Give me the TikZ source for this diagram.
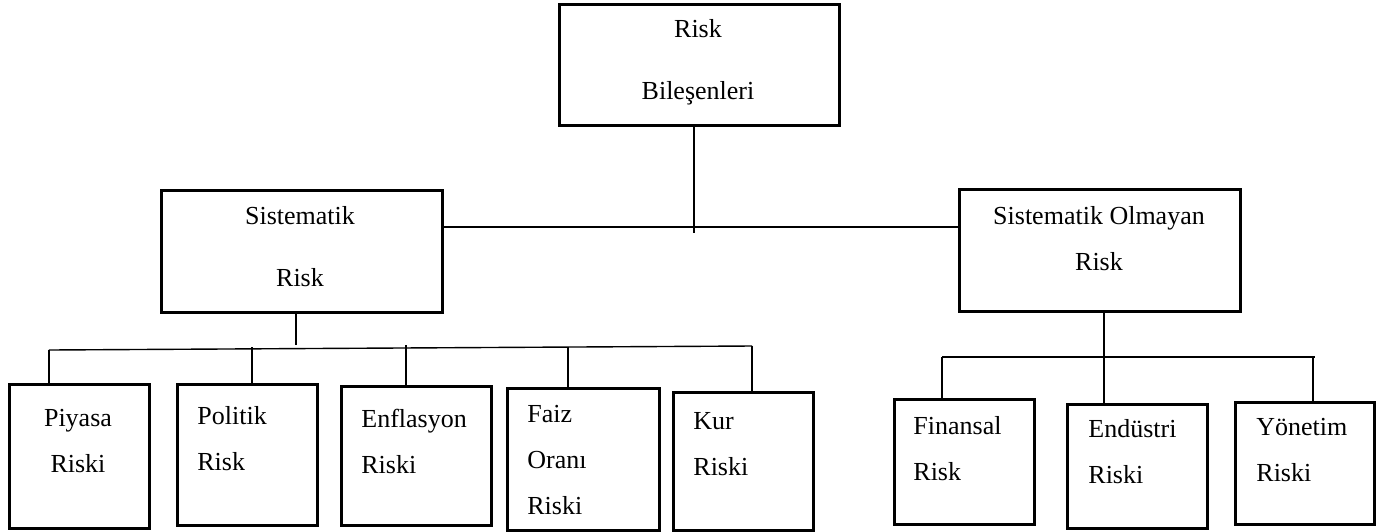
\documentclass[tikz,border=0pt]{standalone}
\usepackage{fontspec}
\setmainfont{Liberation Serif}

\begin{document}
\begin{tikzpicture}[x=0.5pt, y=-0.5pt,
		box/.style={draw, line width=1.4pt, rectangle, inner sep=0pt, anchor=north west},
		txt/.style={inner sep=0pt, align=left, anchor=north west, font=\fontsize{13}{23}\selectfont},
		ctxt/.style={txt, align=center, anchor=north},
		conn/.style={line width=0.7pt},
		]
		\useasboundingbox (0,0) rectangle (1392,531);

		\node[box, minimum width=140pt, minimum height=60.5pt] (risk) at (558,3) {};
		\node[box, minimum width=140.5pt, minimum height=61pt] (sis) at (160,189) {};
		\node[box, minimum width=140.5pt, minimum height=61pt] (sisol) at (958,188) {};

		\node[box, minimum width=70pt, minimum height=72pt] (piy) at (8,383) {};
		\node[box, minimum width=70pt, minimum height=70.5pt] (pol) at (176,383) {};
		\node[box, minimum width=75pt, minimum height=69.5pt] (enf) at (340,385) {};
		\node[box, minimum width=76pt, minimum height=71pt] (faiz) at (506,387) {};
		\node[box, minimum width=70pt, minimum height=69pt] (kur) at (672,391) {};

		\node[box, minimum width=70pt, minimum height=62.5pt] (fin) at (893,398) {};
		\node[box, minimum width=70pt, minimum height=62pt] (end) at (1066,403) {};
		\node[box, minimum width=69.5pt, minimum height=61pt] (yon) at (1234,401) {};

		\node[ctxt] (risk-t) at (698,19.4) {Risk\\[8pt]Bileşenleri};
		\node[ctxt] (sis-t) at (300,206.4) {Sistematik\\[8pt]Risk};
		\node[ctxt] (sisol-t) at (1099,206.4) {Sistematik Olmayan\\Risk};

		\node[ctxt] (piy-t) at (78,408.4) {Piyasa\\Riski};
		\node[txt] (pol-t) at (197,406.4) {Politik\\Risk};
		\node[txt] (enf-t) at (361,408.4) {Enflasyon\\Riski};
		\node[txt] (faiz-t) at (527,404.4) {Faiz\\Oranı\\Riski};
		\node[txt] (kur-t) at (693,412.4) {Kur\\Riski};

		\node[txt] (fin-t) at (913,416.4) {Finansal\\Risk};
		\node[txt] (end-t) at (1088,419.4) {Endüstri\\Riski};
		\node[txt] (yon-t) at (1256,417.4) {Yönetim\\Riski};

		\coordinate (rj) at (694,233);
		\coordinate (hm) at (694,227);
		\draw[conn] (risk.south -| rj) -- (rj);
		\draw[conn] (sis.east |- hm) -- (sisol.west |- hm);

		\coordinate (sj) at (296,345);
		\coordinate (lb1) at (49,350);
		\coordinate (lb2) at (252,347);
		\coordinate (lb3) at (406,345);
		\coordinate (lb4) at (568,347);
		\coordinate (lb5) at (752,346);
		\draw[conn] (sis.south -| sj) -- (sj);
		\draw[conn] (lb1) -- (lb5);
		\draw[conn] (lb1) -- (lb1 |- piy.north);
		\draw[conn] (lb2) -- (lb2 |- pol.north);
		\draw[conn] (lb3) -- (lb3 |- enf.north);
		\draw[conn] (lb4) -- (lb4 |- faiz.north);
		\draw[conn] (lb5) -- (lb5 |- kur.north);

		\coordinate (ej) at (1104,357);
		\coordinate (rb1) at (942,357);
		\coordinate (rb2) at (1313,357);
		\coordinate (rb3) at (1315,357);
		\draw[conn] (sisol.south -| ej) -- (ej |- end.north);
		\draw[conn] (rb1) -- (rb3);
		\draw[conn] (rb1) -- (rb1 |- fin.north);
		\draw[conn] (rb2) -- (rb2 |- yon.north);
	\end{tikzpicture}
\end{document}
